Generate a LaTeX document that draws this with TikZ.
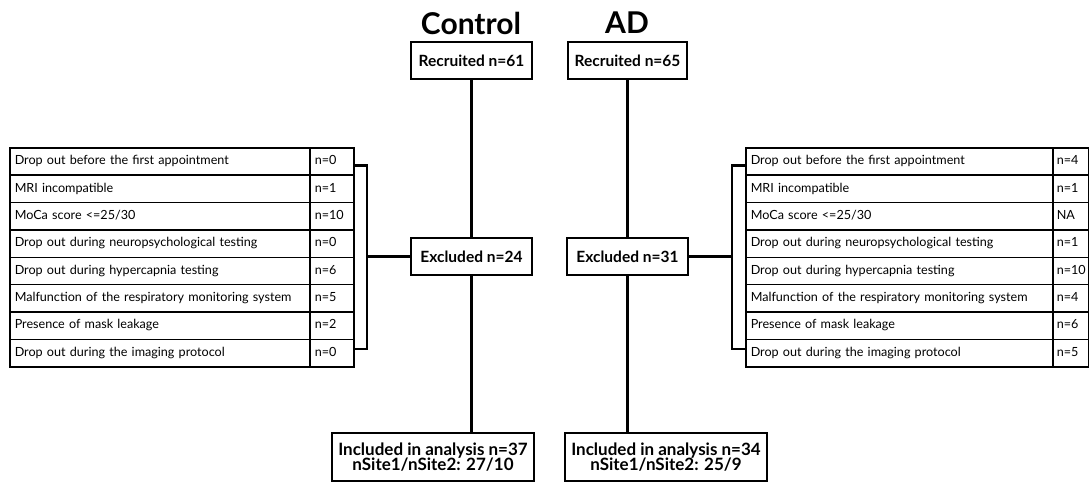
\documentclass[tikz,border=0pt]{standalone}
\usepackage{fontspec}
\setmainfont{Lato}
\begin{document}
\begin{tikzpicture}[x=1pt,y=-1pt,
  box/.style={draw, line width=1.5pt, font=\bfseries\fontsize{15.5}{16}\selectfont, inner sep=0pt, align=center},
  incbox/.style={box, font=\bfseries\fontsize{17}{15.5}\selectfont},
  cell/.style={draw, line width=1.5pt, font=\fontsize{12.6}{14}\selectfont, inner xsep=5pt, inner ysep=0pt,
    minimum height=27.375pt, anchor=north west, text height=9pt, text depth=2.5pt, align=left},
  title/.style={font=\bfseries\fontsize{30}{32}\selectfont, inner sep=0pt},
  conn/.style={line width=3pt},
  brk/.style={line width=2.6pt}]
\useasboundingbox (0,0) rectangle (1089,483);

% titles
\node[title] (tC) at (471,23) {Control};
\node[title] (tA) at (627,23) {AD};

% main boxes
\node[box, minimum width=121pt, minimum height=37pt] (recC) at (471.5,60.5) {Recruited n=61};
\node[box, minimum width=119pt, minimum height=37pt] (recA) at (627.5,60.5) {Recruited n=65};
\node[box, minimum width=121pt, minimum height=37pt] (exC) at (471.5,256.5) {Excluded n=24};
\node[box, minimum width=121pt, minimum height=37pt] (exA) at (627.5,256.5) {Excluded n=31};
\node[incbox, minimum width=202pt, minimum height=48pt] (incC) at (433,457) {Included in analysis n=37\\nSite1/nSite2: 27/10};
\node[incbox, minimum width=202pt, minimum height=48pt] (incA) at (666,457) {Included in analysis n=34\\nSite1/nSite2: 25/9};

% left table (Control)
\foreach \i/\t/\v in {1/{Drop out before the first appointment}/n=0,
  2/{MRI incompatible}/n=1,
  3/{MoCa score <=25/30}/n=10,
  4/{Drop out during neuropsychological testing}/n=0,
  5/{Drop out during hypercapnia testing}/n=6,
  6/{Malfunction of the respiratory monitoring system}/n=5,
  7/{Presence of mask leakage}/n=2,
  8/{Drop out during the imaging protocol}/n=0} {
  \node[cell, text width=290pt] (cl\i) at (9,{147+(\i-1)*27.375}) {\t};
  \node[cell, text width=34pt] (cv\i) at (309,{147+(\i-1)*27.375}) {\v};
}

% right table (AD)
\foreach \i/\t/\v in {1/{Drop out before the first appointment}/n=4,
  2/{MRI incompatible}/n=1,
  3/{MoCa score <=25/30}/NA,
  4/{Drop out during neuropsychological testing}/n=1,
  5/{Drop out during hypercapnia testing}/n=10,
  6/{Malfunction of the respiratory monitoring system}/n=4,
  7/{Presence of mask leakage}/n=6,
  8/{Drop out during the imaging protocol}/n=5} {
  \node[cell, text width=297pt] (al\i) at (745,{147+(\i-1)*27.375}) {\t};
  \node[cell, inner xsep=4pt, text width=28pt] (av\i) at (1052,{147+(\i-1)*27.375}) {\v};
}

% vertical connectors
\draw[conn] (recC.south) -- (exC.north);
\draw[conn] (exC.south) -- (exC.south |- incC.north);
\draw[conn] (recA.south) -- (exA.north);
\draw[conn] (exA.south) -- (exA.south |- incA.north);

% brackets
\coordinate (bL) at (367,256.5);
\coordinate (bR) at (732,256.5);
\draw[brk] ([yshift=-4pt]cv1.east) -| (bL) |- ([yshift=4pt]cv8.east);
\draw[brk] (bL) -- (exC.west);
\draw[brk] ([yshift=-4pt]al1.west) -| (bR) |- ([yshift=4pt]al8.west);
\draw[brk] (bR) -- (exA.east);
\end{tikzpicture}
\end{document}
